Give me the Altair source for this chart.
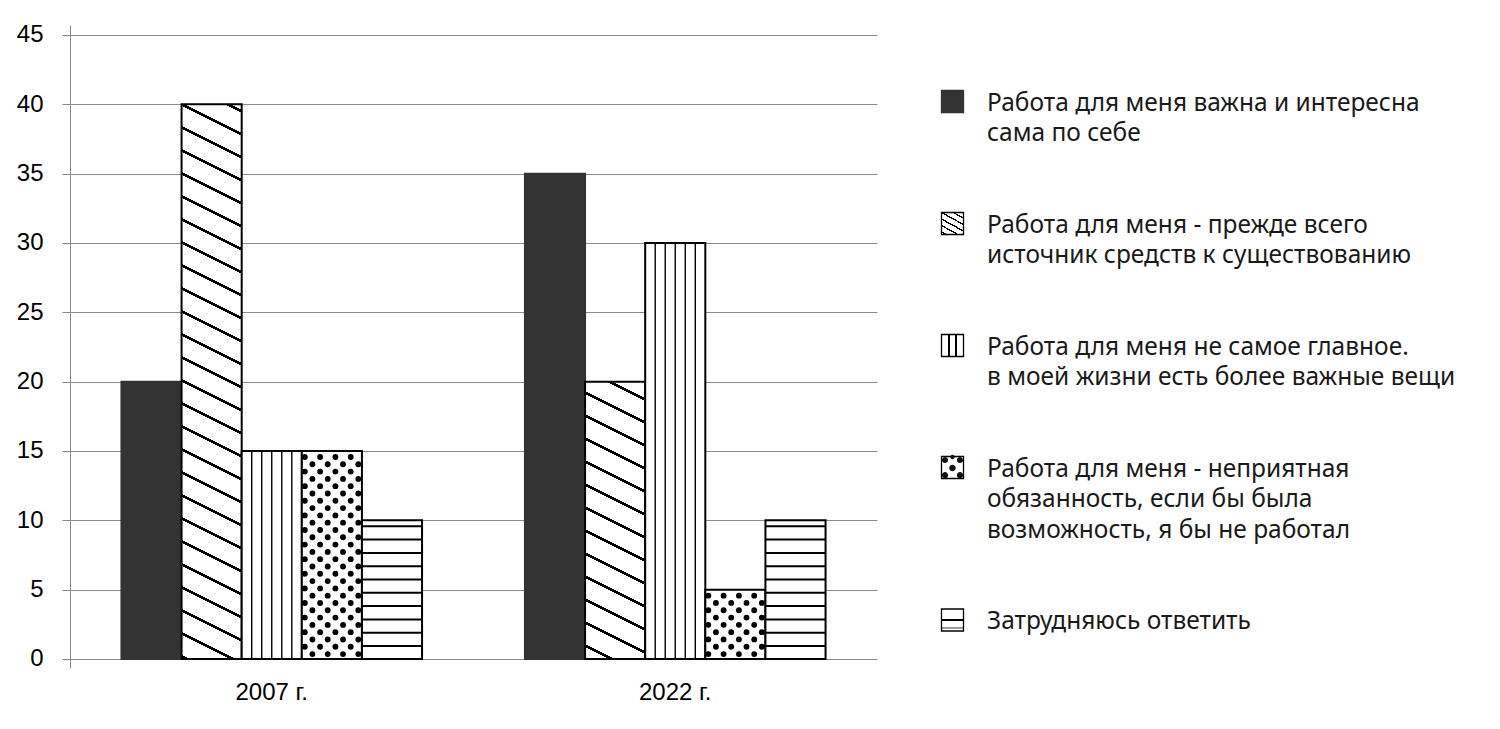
import math
import altair as alt
import pandas as pd

# ---------------- data ----------------
years = ["2007 г.", "2022 г."]
series = [
    "Работа для меня важна и интересна\nсама по себе",
    "Работа для меня - прежде всего\nисточник средств к существованию",
    "Работа для меня не самое главное.\nв моей жизни есть более важные вещи",
    "Работа для меня - неприятная\nобязанность, если бы была\nвозможность, я бы не работал",
    "Затрудняюсь ответить",
]
values_2007 = [20, 40, 15, 15, 10]
values_2022 = [35, 20, 30, 5, 10]
y_ticks = [0, 5, 10, 15, 20, 25, 30, 35, 40, 45]

# ---------------- layout / style ----------------
W_PLOT, H_PLOT = 807, 643
Y_MIN, Y_MAX = -0.65, 45.72
BW = 0.149                      # bar width as fraction of a group
PX_X = W_PLOT / 2.0             # px per x unit
PX_Y = H_PLOT / (Y_MAX - Y_MIN) # px per y unit
patterns = ["solid", "diag", "vert", "dots", "horiz"]
DIAG_PHASE = [0.0, 11.0]
DARK = "#333333"
GRID = "#8a8a8a"

xs = alt.Scale(domain=[0, 2], nice=False, zero=False)
ys = alt.Scale(domain=[Y_MIN, Y_MAX], nice=False, zero=False)
yaxis = alt.Axis(values=y_ticks, grid=True, gridColor=GRID, gridWidth=1,
                 domainColor=GRID, domainWidth=1, tickColor=GRID, tickSize=8,
                 tickWidth=1, labelFont="Liberation Sans", labelFontSize=24,
                 labelColor="#000000", labelPadding=19, title=None,
                 labelOverlap=False, labelFlush=False)


def X(f):
    return alt.X(f, type="quantitative", scale=xs, axis=None, title=None)


def Y(f):
    return alt.Y(f, type="quantitative", scale=ys, axis=yaxis, title=None)


def stripe_stops(centers, hw, fg="#000000", bg="#ffffff", colors=None):
    stops = []
    for k, c in enumerate(centers):
        col = fg if colors is None else colors[k]
        lo, hi = max(0.0, c - hw), min(1.0, c + hw)
        if hi <= 0 or lo >= 1:
            continue
        stops += [(lo, bg), (lo, col), (hi, col), (hi, bg)]
    if not stops:
        stops = [(0, bg), (1, bg)]
    return [{"offset": round(o, 5), "color": c} for o, c in stops]


def diag_grad(Wpx, Hpx, s=0.5, spacing=23.0, phase=0.0, lw=3.0):
    a = s * Wpx / Hpx
    k = (a + 1) / (a * a + 1)
    ys_ = []
    y = phase
    while y > -s * Wpx - lw:
        y -= spacing
    while y < Hpx + lw:
        ys_.append(y)
        y += spacing
    centers = [(a + yy / Hpx) / (a + 1) for yy in ys_]
    hw = (lw / 2) / (Hpx * (a + 1))
    return {"gradient": "linear", "x1": 1, "y1": 0, "x2": 1 - k * a, "y2": k,
            "stops": stripe_stops(centers, hw)}


def vert_grad(Wpx, n=6, lw=1.7):
    centers = [j / n for j in range(1, n)]
    return {"gradient": "linear", "x1": 0, "y1": 0, "x2": 1, "y2": 0,
            "stops": stripe_stops(centers, (lw / 2) / Wpx)}


# ---------------- tables ----------------
rows = []
for g, vals in enumerate([values_2007, values_2022]):
    for i, v in enumerate(vals):
        x0 = g + 0.5 + (i - 2.5) * BW
        rows.append({"key": f"{g}-{i}", "g": g, "i": i, "year": years[g],
                     "series": series[i], "value": v, "base": 0,
                     "x0": x0, "x1": x0 + BW})
bars = pd.DataFrame(rows)

# dot pattern points for the dotted bars
dot_rows = []
for r in bars[bars["i"] == 3].itertuples():
    Wpx, Hpx = BW * PX_X, r.value * PX_Y
    ry, k = 6.0, 0
    while ry <= Hpx - 3:
        xoff = 3.0 if k % 2 == 0 else 10.6
        xx = xoff
        while xx <= Wpx - 3:
            dot_rows.append({"dx": r.x0 + xx / PX_X, "dy": r.value - ry / PX_Y})
            xx += 15.3
        ry += 7.3
        k += 1
dots = pd.DataFrame(dot_rows)

# horizontal hatch lines for the last series
h_rows = []
for r in bars[bars["i"] == 4].itertuples():
    Hpx = r.value * PX_Y
    yy = 6.0
    while yy < Hpx - 4:
        h_rows.append({"hx0": r.x0, "hx1": r.x1, "hy": r.value - yy / PX_Y})
        yy += 13.3
hlines = pd.DataFrame(h_rows)

# vertical hatch lines for the third series
v_rows = []
for r in bars[bars["i"] == 2].itertuples():
    for j in range(1, 6):
        v_rows.append({"vx": r.x0 + j * BW / 6, "vy0": 0, "vy1": r.value})
vlines = pd.DataFrame(v_rows)

cats = pd.DataFrame({"year": years, "center": [g + 0.5 for g in range(len(years))]})

# ---------------- main layers ----------------
main_layers = []
for r in bars.itertuples():
    Wpx, Hpx = BW * PX_X, r.value * PX_Y
    kind = patterns[r.i]
    kw = dict(stroke="#000000", strokeWidth=2)
    if kind == "solid":
        kw.update(fill=DARK, stroke=DARK)
    elif kind == "diag":
        kw.update(fill=diag_grad(Wpx, Hpx, phase=DIAG_PHASE[r.g]))
    else:
        kw.update(fill="#ffffff")
    main_layers.append(
        alt.Chart(bars).transform_filter(f"datum.key == '{r.key}'")
        .mark_bar(**kw)
        .encode(x=X("x0"), x2=alt.X2("x1"), y=Y("value"), y2=alt.Y2("base"))
    )

main_layers.append(
    alt.Chart(vlines).mark_rule(color="#000000", strokeWidth=1.4)
    .encode(x=X("vx"), y=Y("vy0"), y2=alt.Y2("vy1"))
)
main_layers.append(
    alt.Chart(hlines).mark_rule(color="#000000", strokeWidth=2)
    .encode(x=X("hx0"), x2=alt.X2("hx1"), y=Y("hy"))
)
main_layers.append(
    alt.Chart(dots).mark_circle(size=34, color="#000000", opacity=1)
    .encode(x=X("dx"), y=Y("dy"))
)
main_layers.append(
    alt.Chart(cats).mark_text(font="Liberation Sans", fontSize=24, color="#000000",
                              baseline="middle", align="center")
    .encode(x=X("center"), y=alt.value(H_PLOT + 25), text="year:N")
)
main = alt.layer(*main_layers)

# ---------------- legend ----------------
LINE = 30.5
lg_rows = []
acc = 0
for i, s in enumerate(series):
    lg_rows.append({"i": i, "label": s, "pos": acc + 2 * i})
    acc += s.count("\n") + 1
legend_df = pd.DataFrame(lg_rows)
L0 = -76.5 / LINE
ly = alt.Scale(domain=[L0, L0 + H_PLOT / LINE], reverse=True, nice=False, zero=False)
SW_X = 882.5
SW = 22

def LY():
    return alt.Y("pos:Q", scale=ly, axis=None, title=None)

def sw(i, **kw):
    base = dict(shape="square", size=SW * SW, filled=True, opacity=1,
                stroke="#000000", strokeWidth=1.3)
    base.update(kw)
    return (alt.Chart(legend_df).transform_filter(f"datum.i == {i}")
            .mark_point(**base).encode(x=alt.value(SW_X), y=LY()))

def circ(cx, cy, r):
    return f"M{cx - r},{cy}a{r},{r} 0 1,0 {2 * r},0a{r},{r} 0 1,0 {-2 * r},0Z"

dots_path = "".join([circ(0, 0.05, 0.3), circ(-0.68, -0.68, 0.28), circ(0.68, -0.68, 0.28),
                     circ(-0.68, 0.7, 0.28), circ(0.68, 0.7, 0.28), circ(0, -0.95, 0.2)])

leg_layers = [
    sw(0, fill=DARK, stroke=DARK),
    sw(1, fill=diag_grad(SW, SW, s=0.55, spacing=6.5, phase=0, lw=1.5)),
    sw(2, fill=vert_grad(SW, n=3, lw=1.4)),
    sw(3, fill="#ffffff"),
    (alt.Chart(legend_df).transform_filter("datum.i == 3")
     .mark_point(shape=dots_path, size=SW * SW, filled=True, fill="#111111",
                 strokeWidth=0, opacity=1)
     .encode(x=alt.value(SW_X), y=LY())),
    sw(4, fill={"gradient": "linear", "x1": 0, "y1": 0, "x2": 0, "y2": 1,
                "stops": stripe_stops([0.5, 0.88], 0.04,
                                      colors=["#000000", "#9a9a9a"])}),
    (alt.Chart(legend_df)
     .mark_text(align="left", baseline="alphabetic", dy=9, font="Noto Sans",
                fontSize=24.5, color="#1a1a1a", lineBreak="\n", lineHeight=LINE)
     .encode(x=alt.value(917), y=LY(), text="label:N")),
]
legend = alt.layer(*leg_layers)

chart = (
    alt.layer(main, legend)
    .resolve_scale(x="independent", y="independent")
    .properties(width=W_PLOT, height=H_PLOT,
                autosize=alt.AutoSizeParams(type="none"),
                padding={"left": 62, "top": 17, "right": 600, "bottom": 52},
                background="white")
    .configure_view(stroke=None)
)

chart.save("out.html", embed_options={"renderer": "svg", "actions": False})
